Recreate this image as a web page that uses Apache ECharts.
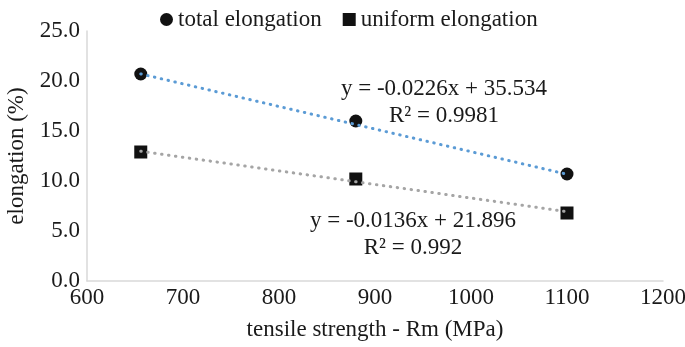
<!DOCTYPE html>
<html>
<head>
<meta charset="utf-8">
<script src="https://cdn.jsdelivr.net/npm/echarts@6/dist/echarts.min.js"></script>
<style>
  html, body { margin: 0; padding: 0; background: #fff; }
  #chart { width: 685px; height: 347px; }
</style>
</head>
<body>
<div id="chart"></div>
<script>
// Measured tensile strength (MPa) and elongation (%)
const strength = [656, 880, 1100];
const totalElongation = [20.7, 16.0, 10.7];
const uniformElongation = [12.9, 10.2, 6.8];

// Linear fit coefficients: [slope, intercept, R²]
const totalFit = [-0.0226, 35.534, 0.9981];
const uniformFit = [-0.0136, 21.896, 0.992];

const yTicks = [0, 5, 10, 15, 20, 25];
const xTicks = [600, 700, 800, 900, 1000, 1100, 1200];

const FONT = '"Liberation Serif", "Times New Roman", serif';
const FS = 23;
const TEXT = '#1a1a1a';
const AXIS = '#d9d9d9';

const pairs = (xs, ys) => xs.map((x, i) => [x, ys[i]]);
const fitLine = (fit) => {
  const x0 = strength[0], x1 = strength[strength.length - 1];
  return [[x0, fit[0] * x0 + fit[1]], [x1, fit[0] * x1 + fit[1]]];
};
const eqText = (fit) => {
  const sign = fit[1] >= 0 ? '+' : '-';
  return 'y = ' + fit[0].toFixed(4) + 'x ' + sign + ' ' + Math.abs(fit[1]).toFixed(3) +
         '\nR² = ' + fit[2];
};

const serif = { fontFamily: FONT, fontSize: FS, color: TEXT };

const chart = echarts.init(document.getElementById('chart'), null, { renderer: 'canvas' });

chart.setOption({
  animation: false,
  backgroundColor: '#fff',
  textStyle: { fontFamily: FONT, fontSize: FS, color: TEXT },
  grid: {
    left: 87, right: 22, top: 31, bottom: 66,
    containLabel: false,
    outerBoundsMode: 'none'
  },
  legend: {
    top: 3,
    left: 155,
    itemWidth: 13,
    itemHeight: 13,
    itemGap: 21,
    textStyle: Object.assign({}, serif),
    data: [
      { name: 'total elongation', icon: 'circle' },
      { name: 'uniform elongation', icon: 'rect' }
    ]
  },
  xAxis: {
    type: 'value',
    min: xTicks[0],
    max: xTicks[xTicks.length - 1],
    interval: 100,
    name: 'tensile strength - Rm (MPa)',
    nameLocation: 'middle',
    nameGap: 37,
    nameTextStyle: Object.assign({}, serif),
    axisLine: { show: true, lineStyle: { color: AXIS, width: 1.5 } },
    axisTick: { show: false },
    splitLine: { show: false },
    axisLabel: Object.assign({ margin: 5, formatter: (v) => String(v) }, serif)
  },
  yAxis: {
    type: 'value',
    min: yTicks[0],
    max: yTicks[yTicks.length - 1],
    interval: 5,
    name: 'elongation (%)',
    nameLocation: 'middle',
    nameGap: 56,
    nameTextStyle: Object.assign({}, serif),
    axisLine: { show: true, lineStyle: { color: AXIS, width: 1.5 } },
    axisTick: { show: false },
    splitLine: { show: false },
    axisLabel: Object.assign({
      margin: 7,
      padding: [5, 0, 0, 0],
      formatter: (v) => v.toFixed(1)
    }, serif)
  },
  series: [
    {
      name: 'total elongation',
      type: 'scatter',
      symbol: 'circle',
      symbolSize: 13,
      itemStyle: { color: '#111', opacity: 1 },
      data: pairs(strength, totalElongation),
      z: 2
    },
    {
      name: 'uniform elongation',
      type: 'scatter',
      symbol: 'rect',
      symbolSize: 13,
      itemStyle: { color: '#111', opacity: 1 },
      data: pairs(strength, uniformElongation),
      z: 2
    },
    {
      name: 'total fit',
      type: 'line',
      showSymbol: false,
      symbol: 'none',
      silent: true,
      lineStyle: { color: '#5B9BD5', width: 3, type: [0.5, 6.5], cap: 'round' },
      data: fitLine(totalFit),
      z: 3
    },
    {
      name: 'uniform fit',
      type: 'line',
      showSymbol: false,
      symbol: 'none',
      silent: true,
      lineStyle: { color: '#A5A5A5', width: 3, type: [0.5, 6.5], cap: 'round' },
      data: fitLine(uniformFit),
      z: 3
    }
  ],
  graphic: [
    {
      type: 'text',
      x: 444, y: 102,
      style: {
        text: eqText(totalFit),
        font: FS + 'px ' + FONT,
        fill: TEXT,
        textAlign: 'center',
        textVerticalAlign: 'middle',
        lineHeight: 27
      }
    },
    {
      type: 'text',
      x: 413, y: 234,
      style: {
        text: eqText(uniformFit),
        font: FS + 'px ' + FONT,
        fill: TEXT,
        textAlign: 'center',
        textVerticalAlign: 'middle',
        lineHeight: 27
      }
    }
  ]
});
</script>
</body>
</html>
